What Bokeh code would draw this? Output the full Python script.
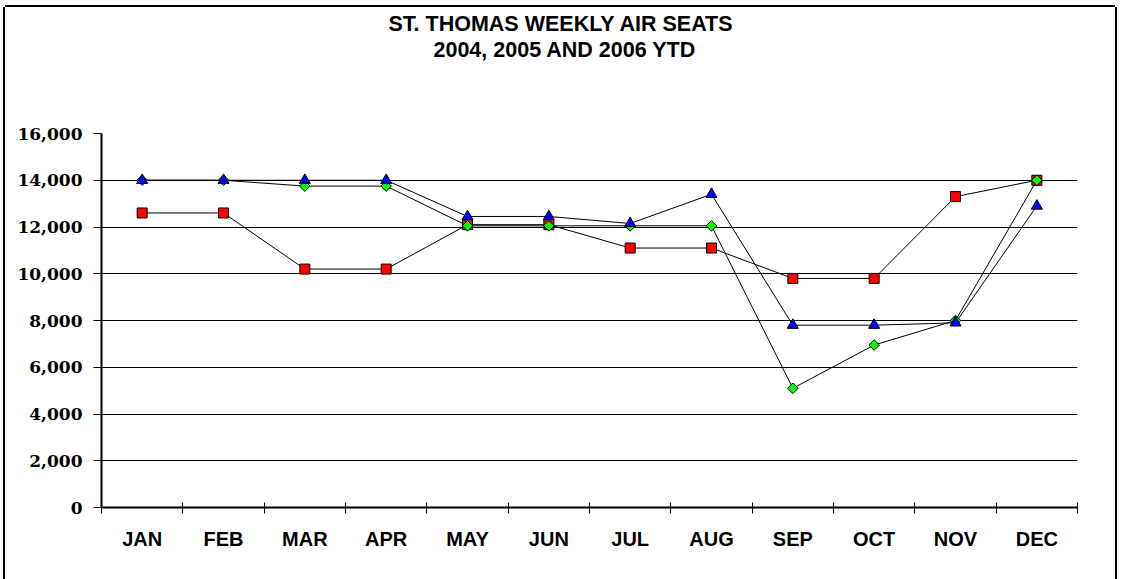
from bokeh.plotting import figure
from bokeh.models import FixedTicker, NumeralTickFormatter, Title, Range1d
from bokeh.embed import file_html
from bokeh.resources import INLINE

months = ["JAN", "FEB", "MAR", "APR", "MAY", "JUN", "JUL", "AUG", "SEP", "OCT", "NOV", "DEC"]
seats_red = [12600, 12600, 10200, 10200, 12100, 12100, 11100, 11100, 9800, 9800, 13300, 14000]
seats_green = [14000, 14000, 13750, 13750, 12050, 12050, 12050, 12050, 5100, 6950, 8000, 14000]
seats_blue = [14000, 14000, 14000, 14000, 12450, 12450, 12150, 13400, 7800, 7800, 7900, 12900]
y_ticks = [0, 2000, 4000, 6000, 8000, 10000, 12000, 14000, 16000]
title_lines = ["ST. THOMAS WEEKLY AIR SEATS", "2004, 2005 AND 2006 YTD"]

xs = [i + 0.5 for i in range(len(months))]

p = figure(width=1110, height=572, output_backend="svg", toolbar_location=None,
           x_range=Range1d(0, len(months)), y_range=Range1d(0, 16000),
           min_border_left=96, min_border_right=38, min_border_top=126, min_border_bottom=72,
           background_fill_color="white", border_fill_color="white")
p.styles = {"margin-left": "5px", "margin-top": "7px",
            "box-shadow": "0 -2px 0 0 black, -2px 0 0 0 black, 2px 0 0 0 black"}
p.outline_line_color = None

# grid
p.xgrid.grid_line_color = None
p.ygrid.grid_line_color = "black"
p.ygrid.grid_line_width = 1
p.ygrid.ticker = FixedTicker(ticks=y_ticks)

# x axis
p.xaxis.ticker = FixedTicker(ticks=xs, minor_ticks=list(range(len(months) + 1)))
p.xaxis.major_label_overrides = {x: m for x, m in zip(xs, months)}
p.xaxis.major_tick_line_color = None
p.xaxis.major_tick_out = 0
p.xaxis.major_tick_in = 0
p.xaxis.minor_tick_line_color = "black"
p.xaxis.minor_tick_in = 5
p.xaxis.minor_tick_out = 6
p.xaxis.axis_line_color = "black"
p.xaxis.axis_line_width = 2
p.xaxis.major_label_text_font = "Liberation Sans"
p.xaxis.major_label_text_font_style = "bold"
p.xaxis.major_label_text_font_size = "20px"
p.xaxis.major_label_text_color = "black"
p.xaxis.major_label_standoff = 14

# y axis
p.yaxis.ticker = FixedTicker(ticks=y_ticks)
p.yaxis.formatter = NumeralTickFormatter(format="0,0")
p.yaxis.minor_tick_line_color = None
p.yaxis.major_tick_in = 0
p.yaxis.major_tick_out = 8
p.yaxis.major_tick_line_color = "black"
p.yaxis.axis_line_color = "black"
p.yaxis.axis_line_width = 2
p.yaxis.major_label_text_font = "DejaVu Serif"
p.yaxis.major_label_text_font_style = "bold"
p.yaxis.major_label_text_font_size = "17px"
p.yaxis.major_label_text_color = "black"
p.yaxis.major_label_standoff = 11

# series lines
for ys in (seats_red, seats_green, seats_blue):
    p.line(xs, ys, line_color="black", line_width=1)

p.scatter(xs, seats_red, marker="square", size=10, fill_color="#ff0000", line_color="black", line_width=1)
p.scatter(xs, seats_green, marker="square", size=7.5, angle=0.785398, fill_color="#00ff00", line_color="black", line_width=1)
p.scatter(xs, seats_blue, marker="triangle", size=11, fill_color="#0000ff", line_color="black", line_width=1)

# titles: spacer nearest the frame, then the two title lines
p.title.visible = False
spacer = Title(text=" ", text_font_size="63px", standoff=0)
p.add_layout(spacer, "above")
for txt, off in ((title_lines[1], 332), (title_lines[0], 287)):
    p.add_layout(Title(text=txt, align="left", offset=off, standoff=0,
                       text_font="Liberation Sans", text_font_style="bold",
                       text_font_size="21.5px", text_color="black"), "above")

open("out.html", "w").write(file_html(p, INLINE))
